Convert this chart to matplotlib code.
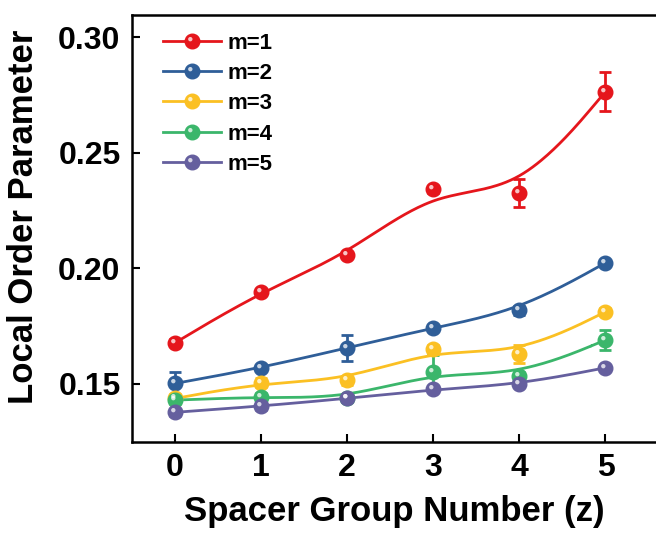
import numpy as np
import matplotlib
matplotlib.use("Agg")
import matplotlib.pyplot as plt
from matplotlib.path import Path

plt.rcParams["font.family"] = ["Liberation Sans", "DejaVu Sans"]
plt.rcParams["font.weight"] = "bold"

# data
z = [0, 1, 2, 3, 4, 5]
labels = ["m=1", "m=2", "m=3", "m=4", "m=5"]
m1 = [0.1678, 0.1900, 0.2058, 0.2342, 0.2325, 0.2765]
m2 = [0.1502, 0.1570, 0.1656, 0.1743, 0.1818, 0.2024]
m3 = [0.1437, 0.1505, 0.1516, 0.1650, 0.1629, 0.1812]
m4 = [0.1430, 0.1444, 0.1437, 0.1550, 0.1536, 0.1690]
m5 = [0.1377, 0.1404, 0.1437, 0.1476, 0.1498, 0.1570]
e1 = [0.0015, 0.0012, 0.0012, 0.0015, 0.0060, 0.0085]
e2 = [0.0050, 0.0012, 0.0055, 0.0012, 0.0020, 0.0010]
e3 = [0.0020, 0.0020, 0.0020, 0.0020, 0.0040, 0.0015]
e4 = [0.0015, 0.0015, 0.0015, 0.0075, 0.0015, 0.0045]
e5 = [0.0015, 0.0015, 0.0015, 0.0012, 0.0012, 0.0012]
colors = ["#E5161C", "#2F5E98", "#FBC023", "#3BB66B", "#655F9E"]


def bspline(x, y, n=40):
    # uniform cubic B-spline with tripled end points (Origin's "B-Spline" connect)
    px = np.r_[[x[0]] * 2, x, [x[-1]] * 2]
    py = np.r_[[y[0]] * 2, y, [y[-1]] * 2]
    t = np.linspace(0, 1, n)
    b = np.array([(1 - t) ** 3, 3 * t ** 3 - 6 * t ** 2 + 4,
                  -3 * t ** 3 + 3 * t ** 2 + 3 * t + 1, t ** 3]) / 6
    xs, ys = [], []
    for i in range(len(px) - 3):
        xs.append(b.T @ px[i:i + 4])
        ys.append(b.T @ py[i:i + 4])
    return np.concatenate(xs), np.concatenate(ys)


# small offset highlight to make the markers look like little spheres
circ = Path.circle((-0.3, 0.32), 0.3)
shine = Path(np.vstack([[[-1, -1], [1, 1]], circ.vertices]),
             np.r_[[Path.MOVETO, Path.MOVETO], circ.codes])

fig = plt.figure(figsize=(6.56, 5.43), dpi=100)
ax = fig.add_axes([0.2008, 0.1866, 0.8007, 0.7858])

series = [(m1, e1), (m2, e2), (m3, e3), (m4, e4), (m5, e5)]
handles = []
for (vals, err), c, lab in zip(series, colors, labels):
    sx, sy = bspline(np.array(z, float), np.array(vals, float))
    ax.errorbar(z, vals, yerr=err, fmt="none", ecolor=c, elinewidth=2,
                capsize=4, capthick=2, zorder=2)
    ax.plot(sx, sy, color=c, lw=2, zorder=3)
    ax.plot(z, vals, "o", ms=10.5, color=c, mec=c, zorder=4)
    ax.plot(z, vals, ls="none", marker=shine, ms=10.5, color="white",
            mec="none", alpha=0.75, zorder=5)
    h1, = ax.plot([], [], "-o", color=c, lw=2, ms=10.5, mec=c)
    h2, = ax.plot([], [], ls="none", marker=shine, ms=10.5, color="white",
                  mec="none", alpha=0.75)
    handles.append((h1, h2))

ax.set_xlim(-0.503, 5.598)
ax.set_ylim(0.125, 0.3097)
ax.set_xticks(z)
ax.set_yticks([0.15, 0.20, 0.25, 0.30])
ax.set_yticklabels(["0.15", "0.20", "0.25", "0.30"])
ax.tick_params(direction="in", length=6, width=1.5, labelsize=23, pad=8)
for s in ax.spines.values():
    s.set_linewidth(1.8)

ax.set_xlabel("Spacer Group Number (z)", fontsize=25, fontweight="bold")
ax.set_ylabel("Local Order Parameter", fontsize=25, fontweight="bold")
ax.xaxis.set_label_coords(0.5, -0.125)
ax.yaxis.set_label_coords(-0.175, 0.527)

leg = ax.legend(handles, labels, loc="upper left", frameon=False,
                prop={"size": 16, "weight": "bold"}, handlelength=2.6,
                handletextpad=0.3, labelspacing=0.42,
                bbox_to_anchor=(0.035, 0.99), borderaxespad=0.2)

fig.savefig("out.png", dpi=100)
